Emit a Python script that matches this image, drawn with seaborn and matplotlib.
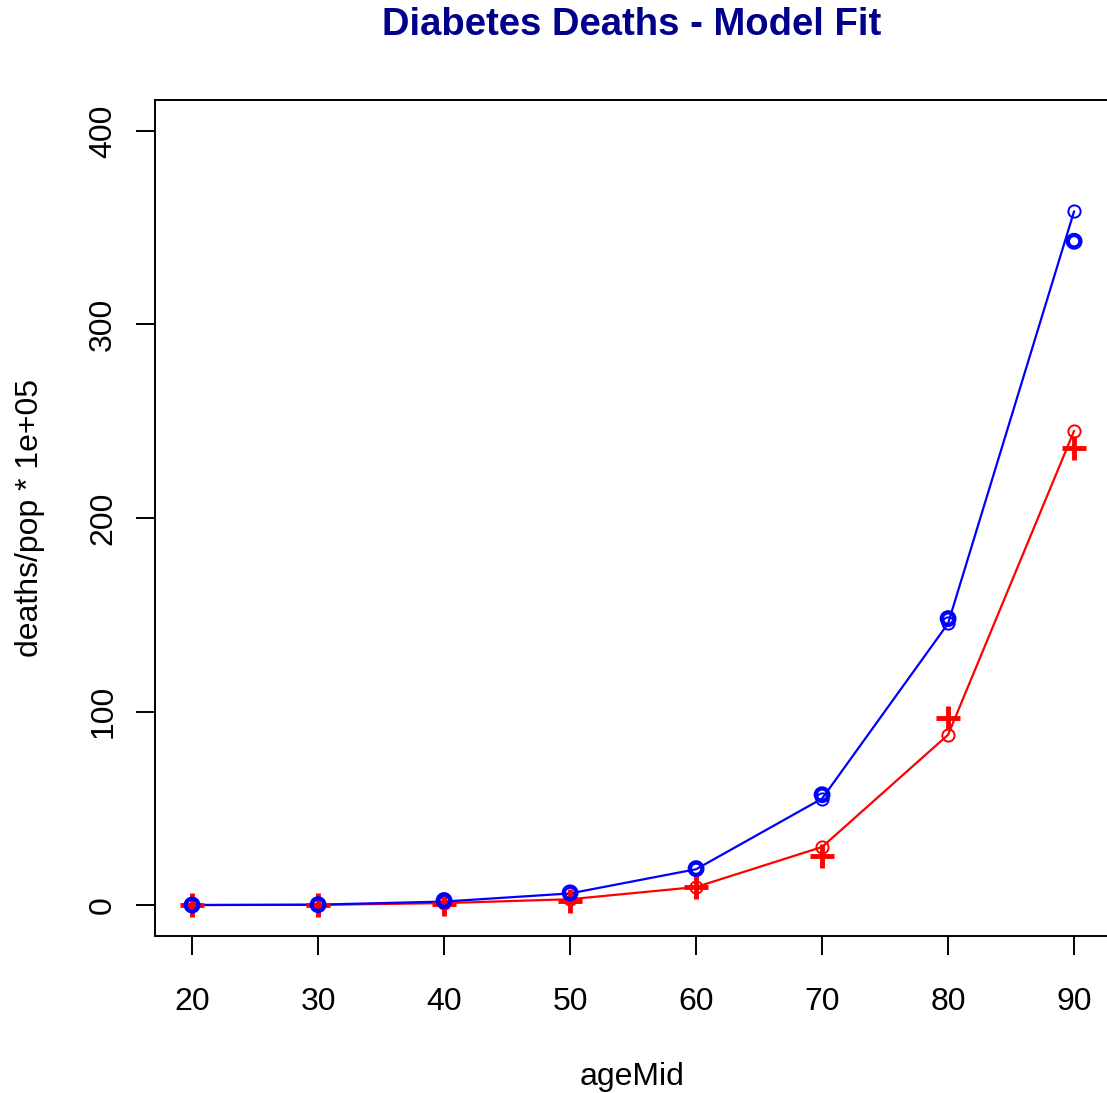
import matplotlib
matplotlib.use("Agg")
import matplotlib.pyplot as plt
import seaborn as sns
import numpy as np

# age group midpoints
age_mid = [20, 30, 40, 50, 60, 70, 80, 90]

# deaths per 100,000 - observed and model fit
male_obs = [0.0, 0.2, 2.3, 6.3, 18.8, 57.0, 148.0, 343.0]
male_fit = [0.0, 0.2, 1.8, 6.0, 18.5, 55.0, 145.5, 358.5]
female_obs = [0.0, 0.1, 0.5, 2.0, 9.5, 25.5, 96.5, 236.0]
female_fit = [0.0, 0.1, 1.0, 3.0, 9.3, 30.0, 88.0, 245.0]

x_ticks = [20, 30, 40, 50, 60, 70, 80, 90]
y_ticks = [0, 100, 200, 300, 400]

sns.set_style("white")
plt.rcParams["font.family"] = ["Liberation Sans", "DejaVu Sans"]
plt.rcParams["text.color"] = "black"
plt.rcParams["xtick.color"] = "black"
plt.rcParams["ytick.color"] = "black"

W, H = 1107, 1093
fig = plt.figure(figsize=(W / 100, H / 100), dpi=100)
ax = fig.add_axes([155 / W, (H - 936) / H, (1109 - 155) / W, (936 - 100) / H])

# female (red) first so the blue marks sit on top
sns.lineplot(x=age_mid, y=female_fit, ax=ax, color="red", lw=1.6,
             marker="o", markersize=8.8, markerfacecolor="none",
             markeredgecolor="red", markeredgewidth=1.4)
sns.scatterplot(x=age_mid, y=female_obs, ax=ax, marker="+", s=320,
                color="red", linewidth=3.5, zorder=3)

sns.lineplot(x=age_mid, y=male_fit, ax=ax, color="blue", lw=1.6,
             marker="o", markersize=8.8, markerfacecolor="none",
             markeredgecolor="blue", markeredgewidth=1.4)
sns.scatterplot(x=age_mid, y=male_obs, ax=ax, marker="o", s=82,
                facecolor="none", edgecolor="blue", linewidth=3.1, zorder=4)

ax.set_xlim(17.06, 92.77)
ax.set_ylim(-16, 416)
ax.set_xticks(x_ticks)
ax.set_yticks(y_ticks)
ax.tick_params(axis="both", direction="out", length=13.5, width=1.4,
               labelsize=23, color="black", labelcolor="black",
               bottom=True, left=True)
ax.tick_params(axis="x", pad=23)
ax.tick_params(axis="y", pad=13)
for lab in ax.get_yticklabels():
    lab.set_rotation(90)
    lab.set_va("center")
for s in ax.spines.values():
    s.set_color("black")
    s.set_linewidth(1.4)

ax.set_xlabel("")
ax.set_ylabel("")
fig.text(632 / W, 1 - 1077 / H, "ageMid", ha="center", va="center", fontsize=23)
fig.text(30 / W, 1 - 518 / H, "deaths/pop * 1e+05", ha="center", va="center",
         rotation=90, fontsize=23)
fig.text(632 / W, 1 - 25 / H, "Diabetes Deaths - Model Fit", ha="center",
         va="center", fontsize=27.5, fontweight="bold", color="#00008B")

fig.savefig("out.png", dpi=100)
plt.close()
